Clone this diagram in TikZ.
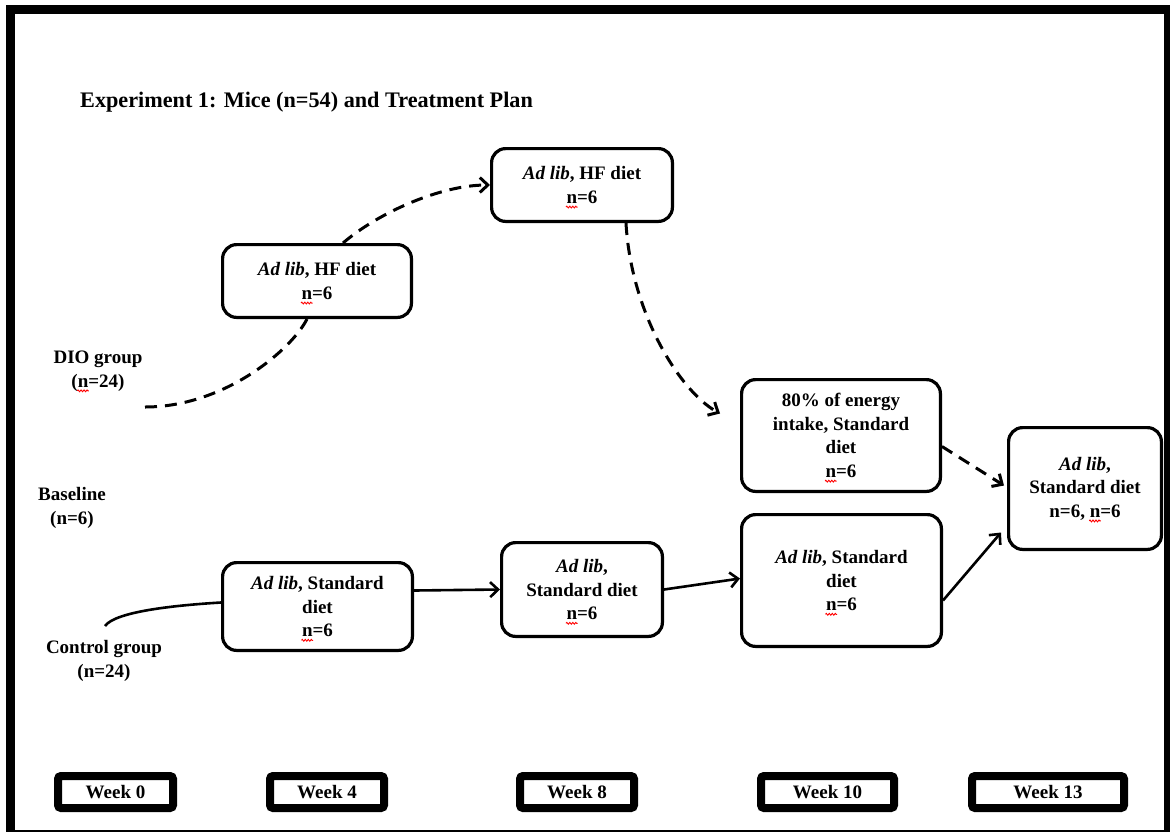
\documentclass[tikz,border=0pt]{standalone}
\usepackage{fontspec}
\setmainfont{Liberation Serif}
\usetikzlibrary{arrows.meta,decorations.pathmorphing}

% red wavy spell-check underline under a word
\newsavebox\splbox
\newcommand\spl[1]{\sbox\splbox{#1}\tikz[baseline=0pt,overlay]\draw[sharp corners,solid,red,line width=0.9pt,decorate,decoration={zigzag,amplitude=0.9pt,segment length=3pt}](-0.5pt,-3.8pt)--(\wd\splbox+0.5pt,-3.8pt);\usebox\splbox}

\begin{document}
\begin{tikzpicture}[x=1pt,y=-1pt,
  txt/.style={font=\fontsize{19}{23.5}\selectfont\bfseries},
  box/.style={txt, draw, line width=3.2pt, rounded corners=14pt, align=center, inner sep=2pt,
    execute at begin node={\rule{0pt}{19.5pt}}},
  lbl/.style={txt, align=center, inner sep=0pt},
  week/.style={txt, draw, line width=8pt, rounded corners=3pt, minimum height=32pt, inner sep=0pt},
  dashlink/.style={line width=3pt, dash pattern=on 12pt off 8pt},
  solidlink/.style={line width=2.6pt},
  tip/.style={-{Straight Barb[length=8pt,width=15pt]}}
]
\useasboundingbox (0,0) rectangle (1170,831);

% outer frame
\begin{scope}
  \clip (0,0) rectangle (1170,831);
  \draw[line width=9pt] (10,9) rectangle (1168.5,834);
\end{scope}

% title
\node[anchor=west, font=\fontsize{22.2}{26}\selectfont\bfseries, inner sep=0pt] (title) at (80,102)
  {Experiment 1: Mice (n=54) and Treatment Plan};

% group labels
\node[lbl] (dio)  at (98,371)  {DIO group\\(\spl{n}=24)};
\node[lbl] (base) at (72,508)  {Baseline\\(n=6)};
\node[lbl] (ctrl) at (104,661) {Control group\\(n=24)};

% treatment boxes
\node[box, minimum width=188.8pt, minimum height=72.8pt] (A) at (317,281)
  {\textit{Ad lib}, HF diet\\\spl{n}=6};
\node[box, minimum width=180.8pt, minimum height=72.8pt] (B) at (582,185)
  {\textit{Ad lib}, HF diet\\\spl{n}=6};
\node[box, minimum width=198.8pt, minimum height=111.8pt] (C) at (841,435.5)
  {80\% of energy\\intake, Standard\\diet\\\spl{n}=6};
\node[box, minimum width=152.8pt, minimum height=121.8pt] (D) at (1085,488.5)
  {\textit{Ad lib},\\Standard diet\\n=6, \spl{n}=6};
\node[box, minimum width=189.8pt, minimum height=87.8pt] (E) at (317.5,606.5)
  {\textit{Ad lib}, Standard\\diet\\\spl{n}=6};
\node[box, minimum width=160.8pt, minimum height=93.8pt] (F) at (582,589.5)
  {\textit{Ad lib},\\Standard diet\\\spl{n}=6};
\node[box, minimum width=199.8pt, minimum height=131.8pt] (G) at (841.5,580.5)
  {\textit{Ad lib}, Standard\\diet\\\spl{n}=6};

% time line
\node[week, minimum width=115pt] (w0)  at (115.5,792) {Week 0};
\node[week, minimum width=114pt] (w4)  at (327,792)   {Week 4};
\node[week, minimum width=114pt] (w8)  at (577,792)   {Week 8};
\node[week, minimum width=133pt] (w10) at (827.5,792) {Week 10};
\node[week, minimum width=152pt] (w13) at (1048,792)  {Week 13};

% free ends of the group lines
\coordinate (dioStart) at (145,407);
\coordinate (ctlStart) at (105,626);

% DIO branch
\draw[dashlink] (dioStart) .. controls +(80,0) and +(-15,30) .. ([xshift=-10pt]A.south);
\draw[dashlink, tip] ([xshift=26pt]A.north) .. controls +(35,-30) and +(-50,0) .. (B.west);
\draw[dashlink, tip] ([xshift=44pt]B.south) .. controls +(5,90) and +(-40,-22) .. ([xshift=-20pt,yshift=22pt]C.west);
\draw[dashlink, tip] ([yshift=-11pt]C.east) -- ([xshift=-3pt,yshift=3pt]D.west);

% control branch
\draw[solidlink] (ctlStart) .. controls +(10,-14) and +(-50,3) .. ([yshift=4pt]E.west);
\draw[solidlink, tip] ([yshift=16pt]E.east) -- (F.west);
\draw[solidlink, tip] (F.east) -- ([yshift=2pt]G.west);
\draw[solidlink, tip] ([yshift=-20pt]G.east) -- ([xshift=-6pt,yshift=-44pt]D.west);
\end{tikzpicture}
\end{document}
